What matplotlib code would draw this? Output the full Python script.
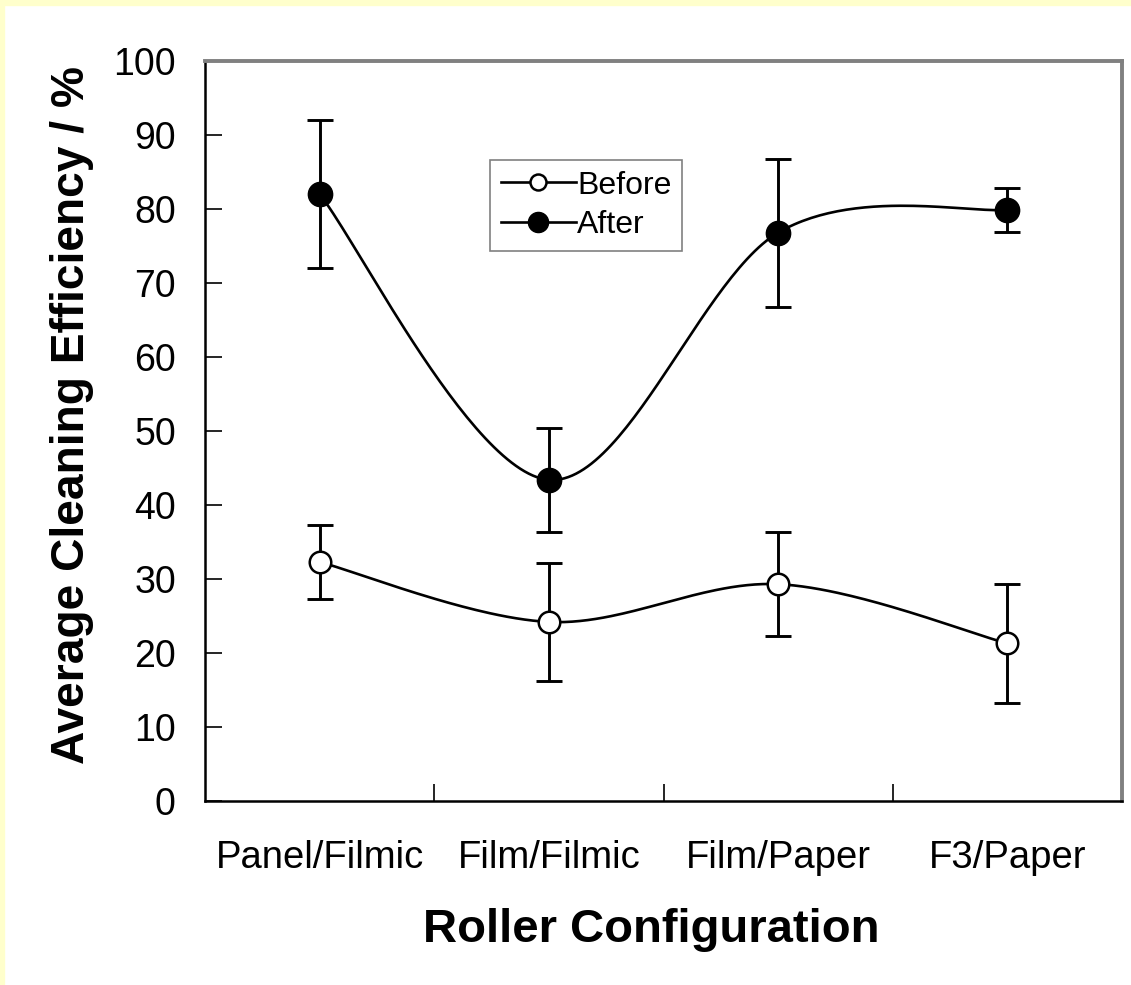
import numpy as np
import matplotlib
matplotlib.use("Agg")
import matplotlib.pyplot as plt
from matplotlib.patches import Rectangle

categories = ["Panel/Filmic", "Film/Filmic", "Film/Paper", "F3/Paper"]
before = [32.3, 24.2, 29.3, 21.3]
before_err = [5.0, 8.0, 7.0, 8.0]
after = [82.0, 43.4, 76.8, 79.9]
after_err = [10.0, 7.0, 10.0, 3.0]

plt.rcParams['font.family'] = ['Liberation Sans', 'DejaVu Sans']


def excel_smooth(x, y, n=60):
    x = np.asarray(x, float)
    y = np.asarray(y, float)
    P = np.column_stack([x, y])
    m = len(P)
    out = []
    for i in range(m - 1):
        p0 = P[i - 1] if i > 0 else P[i]
        p1 = P[i]
        p2 = P[i + 1]
        p3 = P[i + 2] if i + 2 < m else P[i + 1]
        c1 = p1 + (p2 - p0) / 6.0
        c2 = p2 - (p3 - p1) / 6.0
        t = np.linspace(0, 1, n)[:, None]
        seg = ((1 - t) ** 3) * p1 + 3 * ((1 - t) ** 2) * t * c1 + 3 * (1 - t) * t ** 2 * c2 + t ** 3 * p2
        if i > 0:
            seg = seg[1:]
        out.append(seg)
    out = np.vstack(out)
    return out[:, 0], out[:, 1]


W, H = 1131, 985
fig = plt.figure(figsize=(W / 100, H / 100), dpi=100)
fig.patch.set_facecolor('white')
# yellow frame strips (left and top)
fig.patches.append(Rectangle((0, 0), 4 / W, 1, transform=fig.transFigure, color='#FFFFCC', zorder=0))
fig.patches.append(Rectangle((0, 1 - 5 / H), 1, 5 / H, transform=fig.transFigure, color='#FFFFCC', zorder=0))

ax = fig.add_axes([205 / W, 1 - 801 / H, (1122 - 205) / W, (801 - 61) / H])

xpos = np.arange(len(categories)) + 0.5
LW = 1.9
ELW = 2.1

xs, ys = excel_smooth(xpos, before)
ax.plot(xs, ys, color='black', lw=LW, zorder=2)
xs, ys = excel_smooth(xpos, after)
ax.plot(xs, ys, color='black', lw=LW, zorder=2)

ax.errorbar(xpos, before, yerr=before_err, fmt='none', ecolor='black', elinewidth=ELW,
            capsize=9.5, capthick=ELW, zorder=3)
ax.errorbar(xpos, after, yerr=after_err, fmt='none', ecolor='black', elinewidth=ELW,
            capsize=9.5, capthick=ELW, zorder=3)
ax.plot(xpos, before, 'o', ms=15.5, mfc='white', mec='black', mew=1.8, zorder=4)
ax.plot(xpos, after, 'o', ms=17.5, mfc='black', mec='black', zorder=4)

# legend handles
h1, = ax.plot([], [], '-o', color='black', lw=LW, ms=11.5, mfc='white', mec='black', mew=1.8)
h2, = ax.plot([], [], '-o', color='black', lw=LW, ms=14.5, mfc='black', mec='black')
leg = ax.legend([h1, h2], ['Before', 'After'], loc='upper left',
                bbox_to_anchor=((490 - 205) / 917, (801 - 160) / 740), borderaxespad=0,
                fontsize=23, frameon=True, fancybox=False, handlelength=2.35,
                handletextpad=0.05, borderpad=0.33, labelspacing=0.3)
leg.get_frame().set_edgecolor('#606060')
leg.get_frame().set_linewidth(1.2)

ax.set_xlim(0, 4)
ax.set_ylim(0, 100)
ax.set_yticks(np.arange(0, 101, 10))
ax.set_xticks([1, 2, 3])
ax.set_xticklabels([])
ax.set_xticks(xpos, minor=True)
ax.set_xticklabels(categories, minor=True)
ax.tick_params(axis='x', which='major', direction='in', length=12, width=1.2, color='black')
ax.tick_params(axis='x', which='minor', length=0, pad=28, labelsize=27.5)
ax.tick_params(axis='y', direction='in', length=12, width=1.2, pad=21, labelsize=27)

for s in ['left', 'bottom']:
    ax.spines[s].set_color('black')
    ax.spines[s].set_linewidth(1.8)
for s in ['top', 'right']:
    ax.spines[s].set_color('#808080')
    ax.spines[s].set_linewidth(2.8)

fig.text(651 / W, 1 - 942 / H, 'Roller Configuration', ha='center', va='baseline',
         fontsize=34, fontweight='bold')
fig.text(84 / W, 1 - 415 / H, 'Average Cleaning Efficiency / %', ha='center', va='baseline',
         rotation=90, rotation_mode='anchor', fontsize=33.2, fontweight='bold')

fig.savefig('out.png', dpi=100, facecolor=fig.get_facecolor())
